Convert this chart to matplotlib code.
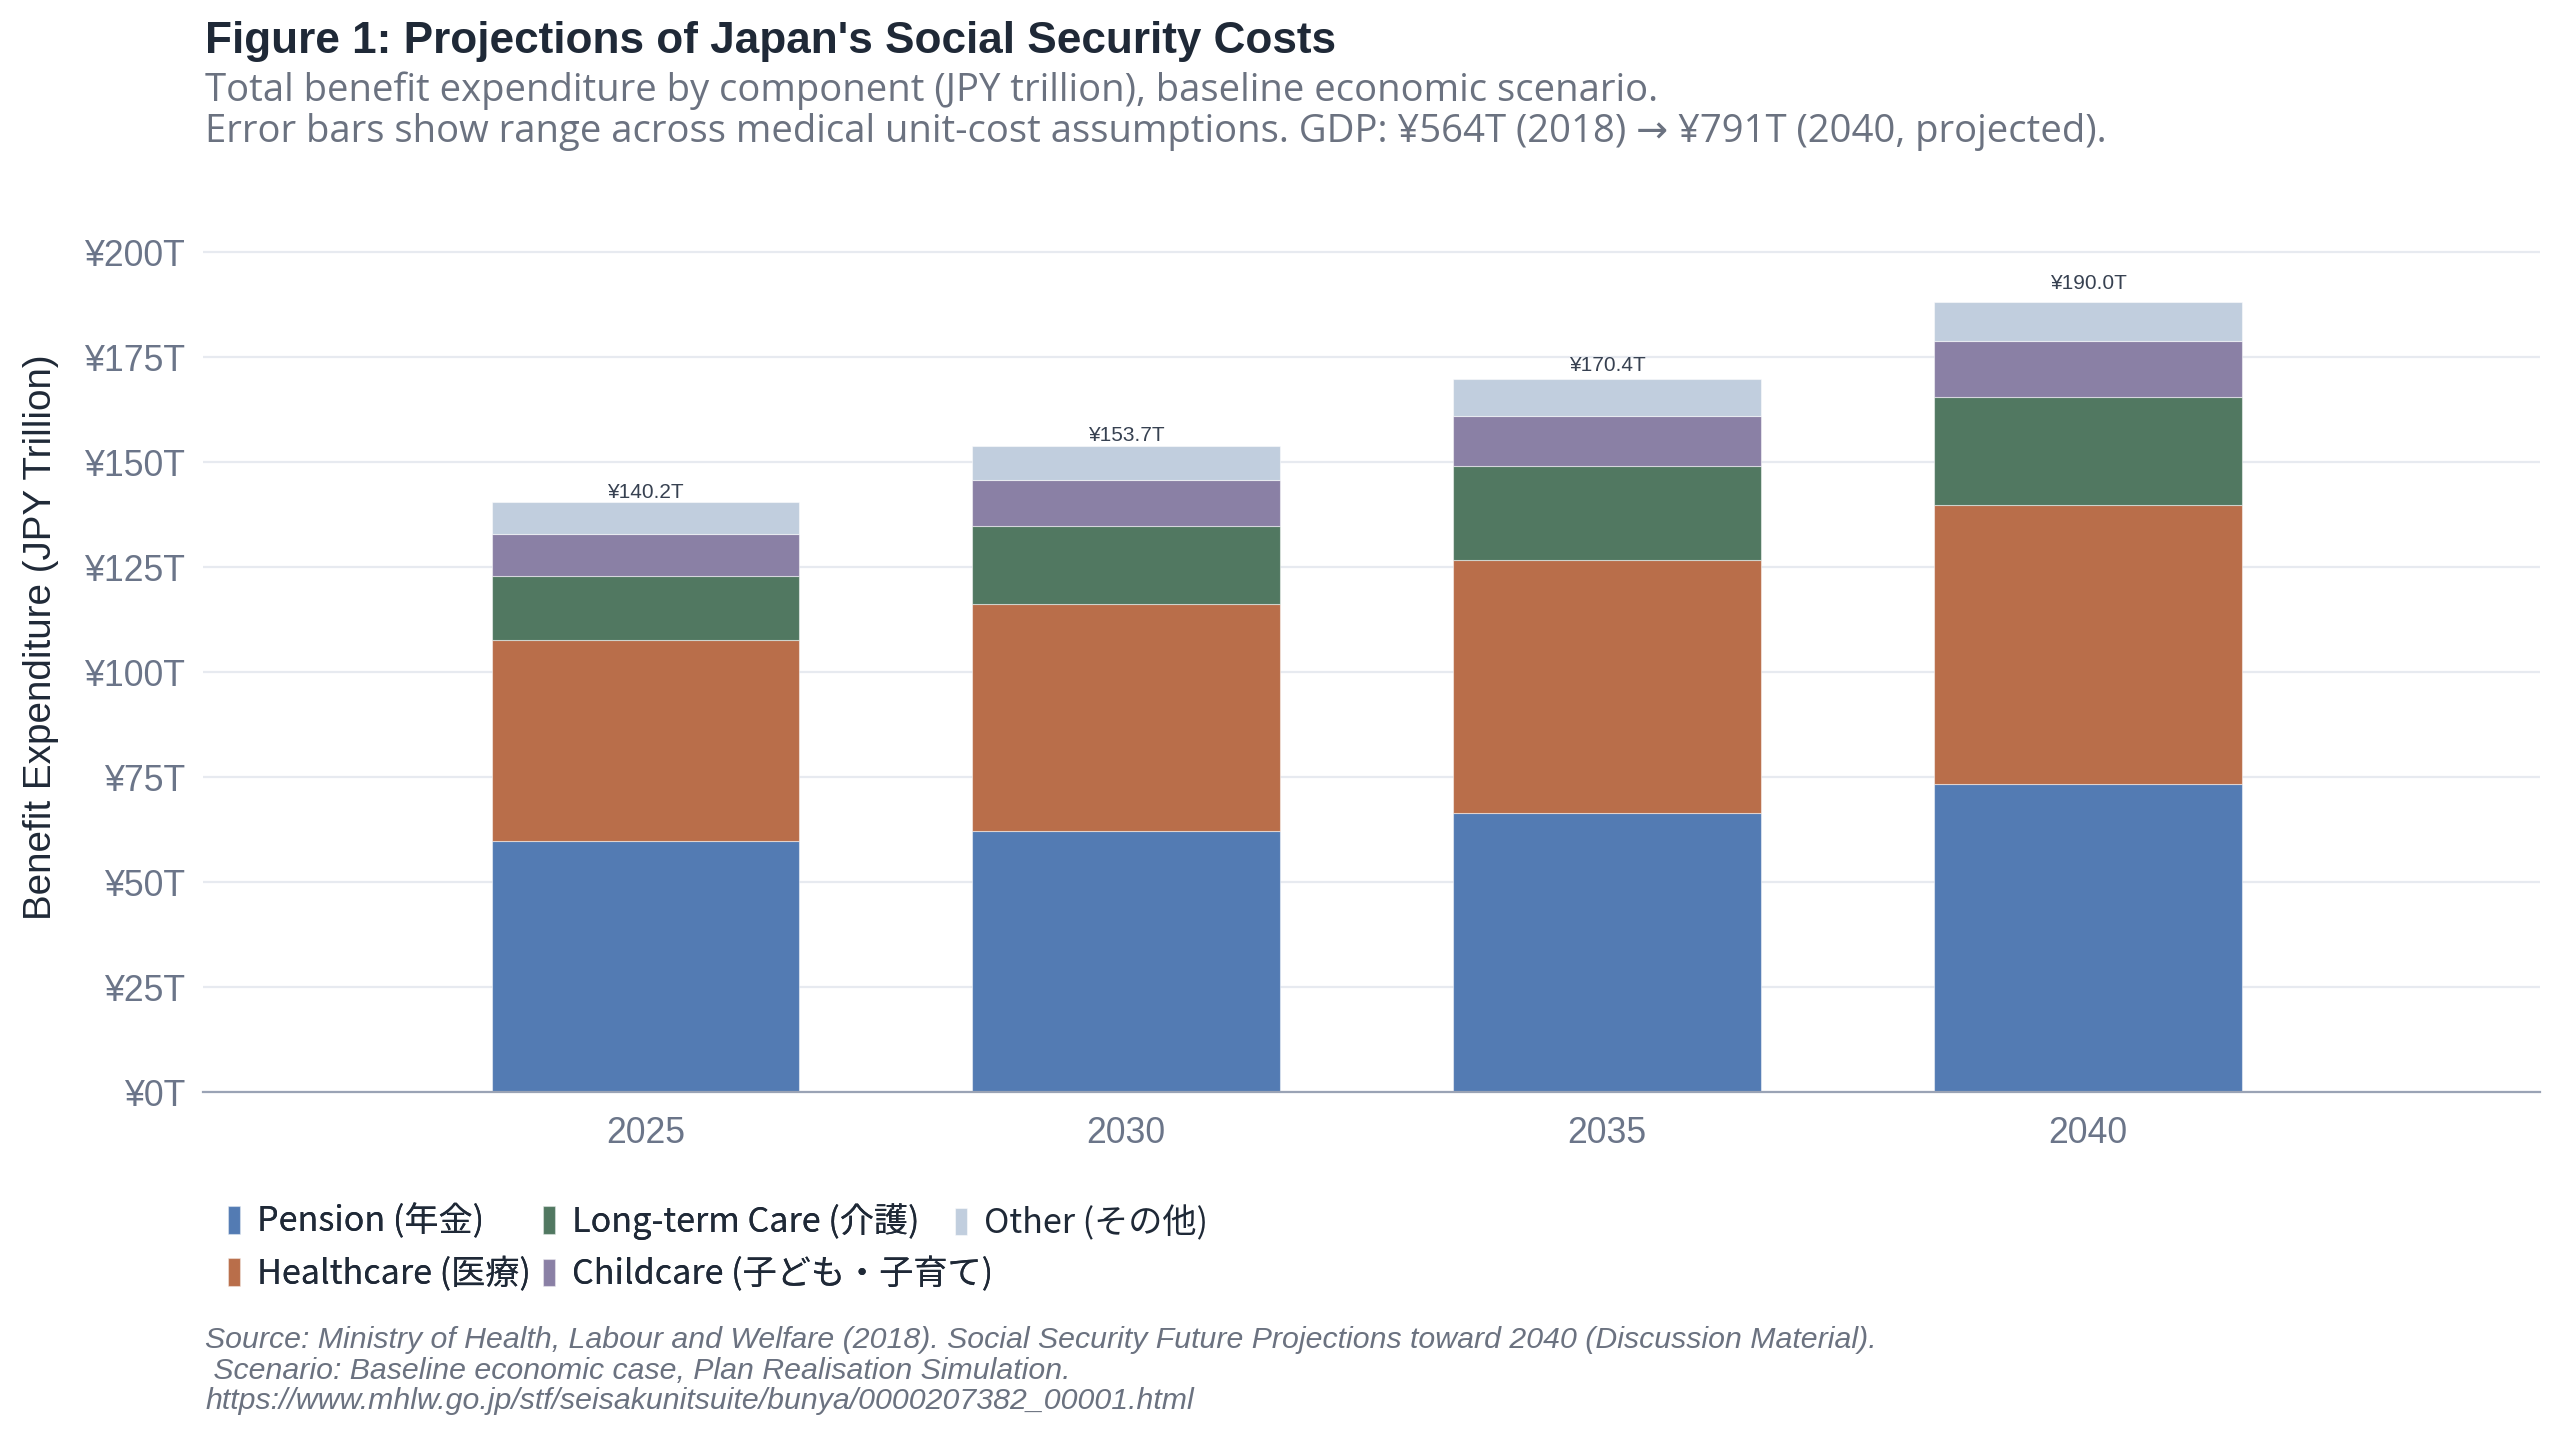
import matplotlib
matplotlib.use("Agg")
import matplotlib.pyplot as plt
import numpy as np

# values (JPY trillion)
years = [2025, 2030, 2035, 2040]
pension = [59.8, 62.1, 66.4, 73.3]
healthcare = [47.9, 54.1, 60.3, 66.6]
long_term_care = [15.2, 18.7, 22.3, 25.7]
childcare = [10.0, 10.9, 11.9, 13.2]
other = [7.6, 8.1, 8.8, 9.4]
total_labels = [140.2, 153.7, 170.4, 190.0]

series_names = ['Pension (年金)', 'Healthcare (医療)', 'Long-term Care (介護)',
                'Childcare (子ども・子育て)', 'Other (その他)']
series_colors = ['#537bb3', '#b96e4a', '#517861', '#8a80a5', '#c1cede']

W, H = 2560, 1429
fig = plt.figure(figsize=(W / 100, H / 100), dpi=100)

def fx(px):
    return px / W

def fy(py):
    return 1 - py / H

# plot area in pixels
left, right, top, bottom = 203, 2540, 182, 1092
ax = fig.add_axes([fx(left), fy(bottom), fx(right) - fx(left), fy(top) - fy(bottom)])

base = np.zeros(len(years))
handles = []
for name, vals, col in zip(series_names,
                           [pension, healthcare, long_term_care, childcare, other],
                           series_colors):
    bars = ax.bar(years, vals, width=3.2, bottom=base, color=col, label=name,
                  edgecolor=(1, 1, 1, 0.5), linewidth=0.8, zorder=3)
    handles.append(bars)
    base = base + np.array(vals)

# total labels sit at the reported total (upper end of the range)
for x, t in zip(years, total_labels):
    ax.annotate(f'¥{t:.1f}T', (x, t), xytext=(0, 4), textcoords='offset points',
                ha='center', va='baseline', fontsize=15, color='#374151',
                family='Liberation Sans')

ax.set_xlim(2020.4, 2044.7)
ax.set_ylim(0, 216.7)
ax.set_xticks(years)
ax.set_xticklabels([str(y) for y in years])
ax.set_yticks(np.arange(0, 201, 25))
ax.set_yticklabels([f'¥{v}T' for v in range(0, 201, 25)])
ax.tick_params(axis='both', length=0, labelsize=25.7, labelcolor='#6b7589')
ax.tick_params(axis='y', pad=13)
ax.tick_params(axis='x', pad=17)
for lab in ax.get_xticklabels() + ax.get_yticklabels():
    lab.set_family('Liberation Sans')

ax.grid(True, axis='y', color='#e7eaf0', linewidth=1.6, zorder=0)
ax.set_axisbelow(True)
for side in ['top', 'right', 'left']:
    ax.spines[side].set_visible(False)
ax.spines['bottom'].set_color('#9aa3b5')
ax.spines['bottom'].set_linewidth(1.6)
ax.spines['bottom'].set_zorder(4)

fig.text(fx(41), fy(637), 'Benefit Expenditure (JPY Trillion)', rotation=90,
         ha='center', va='center', fontsize=27.8, color='#1f2937', family='Liberation Sans')

# titles
fig.text(fx(205), fy(53), "Figure 1: Projections of Japan's Social Security Costs",
         fontsize=31.8, fontweight='bold', color='#1f2937', family='Liberation Sans',
         va='baseline')
fig.text(fx(205), fy(101), 'Total benefit expenditure by component (JPY trillion), baseline economic scenario.',
         fontsize=27.5, color='#6b7280', family='Open Sans', va='baseline')
fig.text(fx(205), fy(142), 'Error bars show range across medical unit-cost assumptions. '
         'GDP: ¥564T (2018) → ¥791T (2040, projected).',
         fontsize=27.5, color='#6b7280', family=['Open Sans', 'DejaVu Sans'], va='baseline')

leg_kw = dict(frameon=False, borderpad=0, borderaxespad=0,
              handlelength=0.35, handleheight=0.85, handletextpad=0.5,
              columnspacing=0.35, labelspacing=0.5,
              prop={'family': ['Noto Sans CJK JP'], 'size': 24.6})
leg1 = fig.legend(handles[:4], series_names[:4], loc='upper left',
                  bbox_to_anchor=(fx(228), fy(1203)), ncol=2, **leg_kw)
leg2 = fig.legend(handles[4:], series_names[4:], loc='upper left',
                  bbox_to_anchor=(fx(955), fy(1206)), ncol=1, **leg_kw)
fig.add_artist(leg1)
for leg in (leg1, leg2):
    for txt in leg.get_texts():
        txt.set_color('#1f2937')

source = ('Source: Ministry of Health, Labour and Welfare (2018). Social Security Future Projections toward 2040 (Discussion Material).\n'
          ' Scenario: Baseline economic case, Plan Realisation Simulation.\n'
          'https://www.mhlw.go.jp/stf/seisakunitsuite/bunya/0000207382_00001.html')
fig.text(fx(205), fy(1326), source, fontsize=21.8, style='italic', color='#6b7280',
         family='Liberation Sans', va='top', linespacing=1.12)

fig.savefig('out.png', dpi=100, facecolor='white')
